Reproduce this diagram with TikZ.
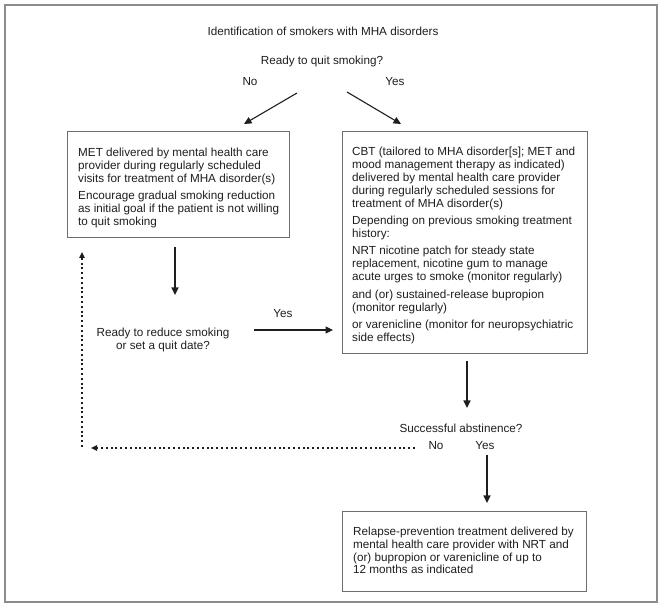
\documentclass[tikz,border=0pt]{standalone}
\usepackage{fontspec}
\setmainfont{Liberation Sans}
\usetikzlibrary{arrows.meta}
\definecolor{txt}{HTML}{1E1E1E}
\definecolor{boxc}{HTML}{6E6E6E}
\definecolor{framec}{HTML}{8C8C8C}
\begin{document}
\begin{tikzpicture}[x=1pt,y=-1pt,
  lbl/.style={inner sep=0pt, text=txt, font=\fontsize{11.7pt}{12.6pt}\selectfont},
  box/.style={draw=boxc, line width=0.9pt, inner sep=0pt, anchor=north west},
  boxtxt/.style={inner sep=0pt, anchor=west, text=txt, align=left,
    font=\fontsize{11.7pt}{12.9pt}\selectfont},
  arr/.style={draw=txt, line width=1.1pt, -{Triangle[length=7.5pt,width=7pt]}},
  darr/.style={draw=txt, line width=1.25pt, dash pattern=on 2pt off 2.8pt, -{Triangle[length=6pt,width=5.5pt]}}
]
\useasboundingbox (0,0) rectangle (665,609);
\draw[framec, line width=1.3pt] (5,5) rectangle (657,602);

\node[lbl] (title) at (323,31) {Identification of smokers with MHA disorders};
\node[lbl] (q1) at (322,61) {Ready to quit smoking?};
\node[lbl] (no1) at (250,82) {No};
\node[lbl] (yes1) at (395,82) {Yes};

\node[box, minimum width=222pt, minimum height=106pt] (met) at (67,131) {};
\node[boxtxt] (mettxt) at ([xshift=11pt,yshift=-3.5pt]met.west) {%
MET delivered by mental health care\\
provider during regularly scheduled\\
visits for treatment of MHA disorder(s)\\[4.5pt]
Encourage gradual smoking reduction\\
as initial goal if the patient is not willing\\
to quit smoking};

\node[box, minimum width=245pt, minimum height=222pt] (cbt) at (342,131) {};
\node[boxtxt] (cbttxt) at ([xshift=10pt,yshift=-3pt]cbt.west) {%
CBT (tailored to MHA disorder[s]; MET and\\
mood management therapy as indicated)\\
delivered by mental health care provider\\
during regularly scheduled sessions for\\
treatment of MHA disorder(s)\\[4.5pt]
Depending on previous smoking treatment\\
history:\\[4.5pt]
NRT nicotine patch for steady state\\
replacement, nicotine gum to manage\\
acute urges to smoke (monitor regularly)\\[4.5pt]
and (or) sustained-release bupropion\\
(monitor regularly)\\[4.5pt]
or varenicline (monitor for neuropsychiatric\\
side effects)};

\node[box, minimum width=244pt, minimum height=80pt] (rp) at (342,511) {};
\node[boxtxt] (rptxt) at ([xshift=11pt,yshift=1pt]rp.west) {%
Relapse-prevention treatment delivered by\\
mental health care provider with NRT and\\
(or) bupropion or varenicline of up to\\
12 months as indicated};

\node[lbl, align=center] (q2) at (163,340) {Ready to reduce smoking\\or set a quit date?};
\node[lbl] (yes2) at (283,314) {Yes};
\node[lbl] (q3) at (461,428) {Successful abstinence?};
\node[lbl] (no3) at (436,446) {No};
\node[lbl] (yes3) at (485,446) {Yes};

\coordinate (n1s) at (297,93);
\coordinate (n1e) at (244,124);
\coordinate (y1s) at (347,92);
\coordinate (y1e) at (401,124);
\coordinate (m1s) at (175,247);
\coordinate (m1e) at (175,295);
\coordinate (y2s) at (254,330);
\coordinate (y2e) at (333,330);
\coordinate (c1s) at (467,361);
\coordinate (c1e) at (467,408);
\coordinate (y3s) at (487,455);
\coordinate (y3e) at (487,503);
\coordinate (d1s) at (415,448);
\coordinate (d1e) at (91,448);
\coordinate (d2s) at (82,447);
\coordinate (d2e) at (82,252);

\draw[arr] (n1s) -- (n1e);
\draw[arr] (y1s) -- (y1e);
\draw[arr] (m1s) -- (m1e);
\draw[arr] (y2s) -- (y2e);
\draw[arr] (c1s) -- (c1e);
\draw[arr] (y3s) -- (y3e);
\draw[darr] (d1s) -- (d1e);
\draw[darr] (d2s) -- (d2e);
\end{tikzpicture}
\end{document}
